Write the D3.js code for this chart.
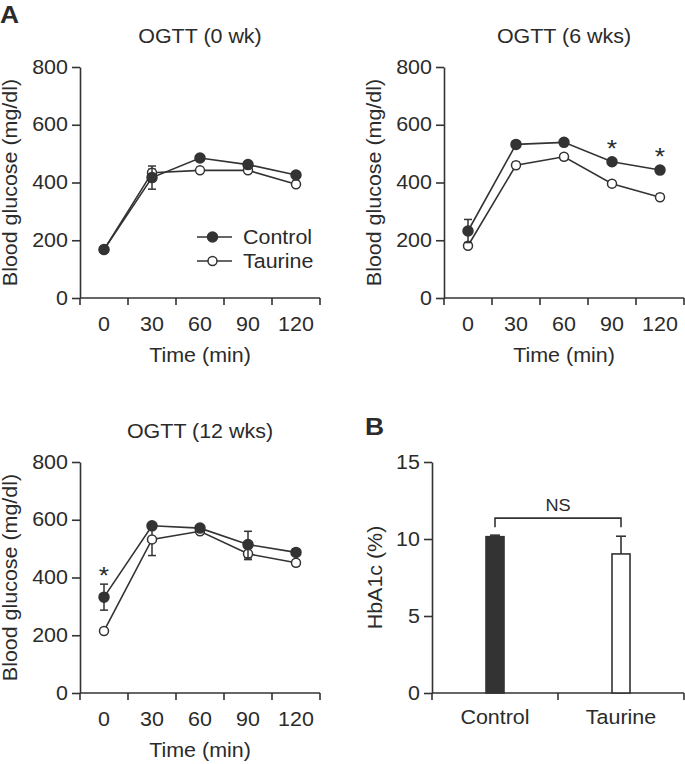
<!DOCTYPE html>
<html>
<head>
<meta charset="utf-8">
<script src="https://cdn.jsdelivr.net/npm/d3@7"></script>
<style>
  html, body { margin: 0; padding: 0; background: #fff; }
  svg { display: block; }
  text { font-family: "Liberation Sans", Arial, sans-serif; fill: #2b2b2b; }
</style>
</head>
<body>
<svg id="chart" width="685" height="764"></svg>
<script>
// ---------- data ----------
const times = ["0", "30", "60", "90", "120"];
const yTicksGlucose = [0, 200, 400, 600, 800];

const ogtt0Control     = [168, 417, 485, 462, 426];
const ogtt0ControlErr  = [6, 40, 10, 10, 10];
const ogtt0Taurine     = [167, 434, 442, 442, 394];
const ogtt0TaurineErr  = [6, 12, 10, 10, 10];

const ogtt6Control     = [232, 532, 539, 472, 443];
const ogtt6ControlErr  = [40, 10, 10, 10, 10];
const ogtt6Taurine     = [181, 460, 489, 396, 349];
const ogtt6TaurineErr  = [6, 10, 10, 10, 10];
const ogtt6Stars       = ["90", "120"];

const ogtt12Control    = [332, 579, 571, 514, 487];
const ogtt12ControlErr = [45, 10, 10, 46, 10];
const ogtt12Taurine    = [215, 532, 560, 482, 451];
const ogtt12TaurineErr = [5, 56, 10, 20, 10];
const ogtt12Stars      = ["0"];

const groups    = ["Control", "Taurine"];
const hba1c     = [10.15, 9.03];
const hba1cErr  = [0.1, 1.15];
const yTicksHb  = [0, 5, 10, 15];

// ---------- drawing ----------
const INK = "#333";
const TXT = "#2b2b2b";
const FS = 19.5, SX = 1.1;
const svg = d3.select("#chart");
svg.append("rect").attr("width", 685).attr("height", 764).attr("fill", "#fff");

function txt(x, y, str, o = {}) {
  const size = o.size || FS, rot = o.rotate || 0;
  return svg.append("text")
    .attr("transform", `translate(${x},${y}) rotate(${rot}) scale(${SX},1)`)
    .attr("text-anchor", o.anchor || "middle")
    .style("font-size", size + "px")
    .style("font-weight", o.weight || "normal")
    .text(str);
}

function styleAxis(g) {
  g.selectAll("path").attr("stroke", INK).attr("stroke-width", 1.6);
  g.selectAll("line").attr("stroke", INK).attr("stroke-width", 1.6);
  g.selectAll("text").style("font-size", FS + "px").attr("fill", TXT)
    .style("font-family", '"Liberation Sans", Arial, sans-serif');
}

function linePanel(x0, x1, top, bottom, title, ctrl, ctrlErr, taur, taurErr, stars, legend) {
  const x = d3.scaleBand().domain(times).range([x0, x1]);
  const y = d3.scaleLinear().domain([0, 800]).range([bottom, top]);
  const cx = t => x(t) + x.bandwidth() / 2;

  // y axis
  const ya = svg.append("g").attr("transform", `translate(${x0},0)`)
    .call(d3.axisLeft(y).tickValues(yTicksGlucose).tickSize(8).tickSizeOuter(0).tickPadding(3));
  styleAxis(ya);
  ya.selectAll("text").attr("transform", `scale(${SX},1)`);

  // x axis: labels centered in bands, tick marks at band edges
  const xa = svg.append("g").attr("transform", `translate(0,${bottom})`)
    .call(d3.axisBottom(x).tickSize(0).tickPadding(19));
  styleAxis(xa);
  xa.select(".domain").remove();
  xa.selectAll("text").attr("transform", `scale(${SX},1)`).attr("dy", "0.71em");
  xa.selectAll(".tick").attr("transform", d => `translate(${cx(d)},0)`);
  const edges = times.map(t => x(t)).concat([x1]);
  svg.append("line").attr("x1", x0).attr("x2", x1).attr("y1", bottom).attr("y2", bottom)
    .attr("stroke", INK).attr("stroke-width", 1.6);
  svg.selectAll(null).data(edges).enter().append("line")
    .attr("x1", d => d).attr("x2", d => d).attr("y1", bottom).attr("y2", bottom + 7)
    .attr("stroke", INK).attr("stroke-width", 1.6);

  // labels
  txt((x0 + x1) / 2, top - 24, title);
  txt((x0 + x1) / 2, bottom + 64, "Time (min)");
  txt(x0 - 63, (top + bottom) / 2, "Blood glucose (mg/dl)", { rotate: -90 });

  const line = d3.line().x((d, i) => cx(times[i])).y(d => y(d));

  function series(vals, errs, filled) {
    svg.append("path").datum(vals).attr("d", line)
      .attr("fill", "none").attr("stroke", INK).attr("stroke-width", 1.6);
    const eg = svg.append("g").attr("stroke", INK).attr("stroke-width", 1.5);
    vals.forEach((v, i) => {
      const c = cx(times[i]);
      eg.append("line").attr("x1", c).attr("x2", c).attr("y1", y(v - errs[i])).attr("y2", y(v + errs[i]));
      [v - errs[i], v + errs[i]].forEach(e =>
        eg.append("line").attr("x1", c - 4).attr("x2", c + 4).attr("y1", y(e)).attr("y2", y(e)));
    });
    svg.selectAll(null).data(vals).enter().append("circle")
      .attr("cx", (d, i) => cx(times[i])).attr("cy", d => y(d))
      .attr("r", filled ? 5 : 4.5)
      .attr("fill", filled ? INK : "#fff")
      .attr("stroke", INK).attr("stroke-width", 1.5);
  }
  series(taur, taurErr, false);
  series(ctrl, ctrlErr, true);

  // significance stars (baseline just above the control mean / error bar)
  stars.forEach(t => {
    const i = times.indexOf(t);
    const yy = Math.min(y(ctrl[i] + ctrlErr[i]), y(ctrl[i]) - 5) - 1;
    txt(cx(t), yy + 1, "*", { size: 24 });
  });

  if (legend) {
    const lx = 197, lw = 35;
    [["Control", true, 237], ["Taurine", false, 261]].forEach(([name, filled, ly]) => {
      svg.append("line").attr("x1", lx).attr("x2", lx + lw).attr("y1", ly).attr("y2", ly)
        .attr("stroke", INK).attr("stroke-width", 1.6);
      svg.append("circle").attr("cx", lx + lw / 2 - 2).attr("cy", ly)
        .attr("r", filled ? 5 : 4.5).attr("fill", filled ? INK : "#fff")
        .attr("stroke", INK).attr("stroke-width", 1.5);
      txt(243, ly + 7, name, { anchor: "start" });
    });
  }
}

linePanel(80, 320, 67, 298, "OGTT (0 wk)", ogtt0Control, ogtt0ControlErr, ogtt0Taurine, ogtt0TaurineErr, [], true);
linePanel(444, 684, 67, 298, "OGTT (6 wks)", ogtt6Control, ogtt6ControlErr, ogtt6Taurine, ogtt6TaurineErr, ogtt6Stars, false);
linePanel(80, 320, 462, 693, "OGTT (12 wks)", ogtt12Control, ogtt12ControlErr, ogtt12Taurine, ogtt12TaurineErr, ogtt12Stars, false);

// ---------- panel B ----------
(function () {
  const x0 = 432, x1 = 684, top = 462, bottom = 693, bw = 18;
  const x = d3.scaleBand().domain(groups).range([x0, x1]);
  const y = d3.scaleLinear().domain([0, 15]).range([bottom, top]);
  const cx = g => x(g) + x.bandwidth() / 2;

  const ya = svg.append("g").attr("transform", `translate(${x0},0)`)
    .call(d3.axisLeft(y).tickValues(yTicksHb).tickSize(8).tickSizeOuter(0).tickPadding(3));
  styleAxis(ya);
  ya.selectAll("text").attr("transform", `scale(${SX},1)`);

  const xa = svg.append("g").attr("transform", `translate(0,${bottom})`)
    .call(d3.axisBottom(x).tickSize(0).tickPadding(17));
  styleAxis(xa);
  xa.select(".domain").remove();
  xa.selectAll("text").attr("transform", `scale(${SX},1)`);
  xa.selectAll(".tick").attr("transform", d => `translate(${cx(d)},0)`);
  svg.append("line").attr("x1", x0).attr("x2", x1).attr("y1", bottom).attr("y2", bottom)
    .attr("stroke", INK).attr("stroke-width", 1.6);
  const edges = groups.map(g => x(g)).concat([x1]);
  svg.selectAll(null).data(edges).enter().append("line")
    .attr("x1", d => d).attr("x2", d => d).attr("y1", bottom).attr("y2", bottom + 7)
    .attr("stroke", INK).attr("stroke-width", 1.6);

  // error bars (upward)
  groups.forEach((g, i) => {
    const c = cx(g);
    svg.append("line").attr("x1", c).attr("x2", c).attr("y1", y(hba1c[i])).attr("y2", y(hba1c[i] + hba1cErr[i]))
      .attr("stroke", INK).attr("stroke-width", 1.6);
    svg.append("line").attr("x1", c - 5).attr("x2", c + 5)
      .attr("y1", y(hba1c[i] + hba1cErr[i])).attr("y2", y(hba1c[i] + hba1cErr[i]))
      .attr("stroke", INK).attr("stroke-width", 1.6);
  });

  svg.selectAll(null).data(hba1c).enter().append("rect")
    .attr("x", (d, i) => cx(groups[i]) - bw / 2)
    .attr("y", d => y(d))
    .attr("width", bw)
    .attr("height", d => bottom - y(d))
    .attr("fill", (d, i) => i === 0 ? INK : "#fff")
    .attr("stroke", INK).attr("stroke-width", 1.6);

  // NS bracket
  const maxTop = d3.min(hba1c.map((v, i) => y(v + hba1cErr[i])));
  const tickBottom = maxTop - 8, lineY = tickBottom - 9;
  svg.append("path")
    .attr("d", `M${cx(groups[0])},${tickBottom}V${lineY}H${cx(groups[1])}V${tickBottom}`)
    .attr("fill", "none").attr("stroke", INK).attr("stroke-width", 1.6);
  txt((cx(groups[0]) + cx(groups[1])) / 2, lineY - 7, "NS", { size: 16.5 });

  txt(x0 - 50, (top + bottom) / 2, "HbA1c (%)", { rotate: -90 });
})();

// panel letters
txt(0, 23, "A", { size: 24, weight: "bold", anchor: "start" });
txt(365, 435, "B", { size: 24, weight: "bold", anchor: "start" });
</script>
</body>
</html>
